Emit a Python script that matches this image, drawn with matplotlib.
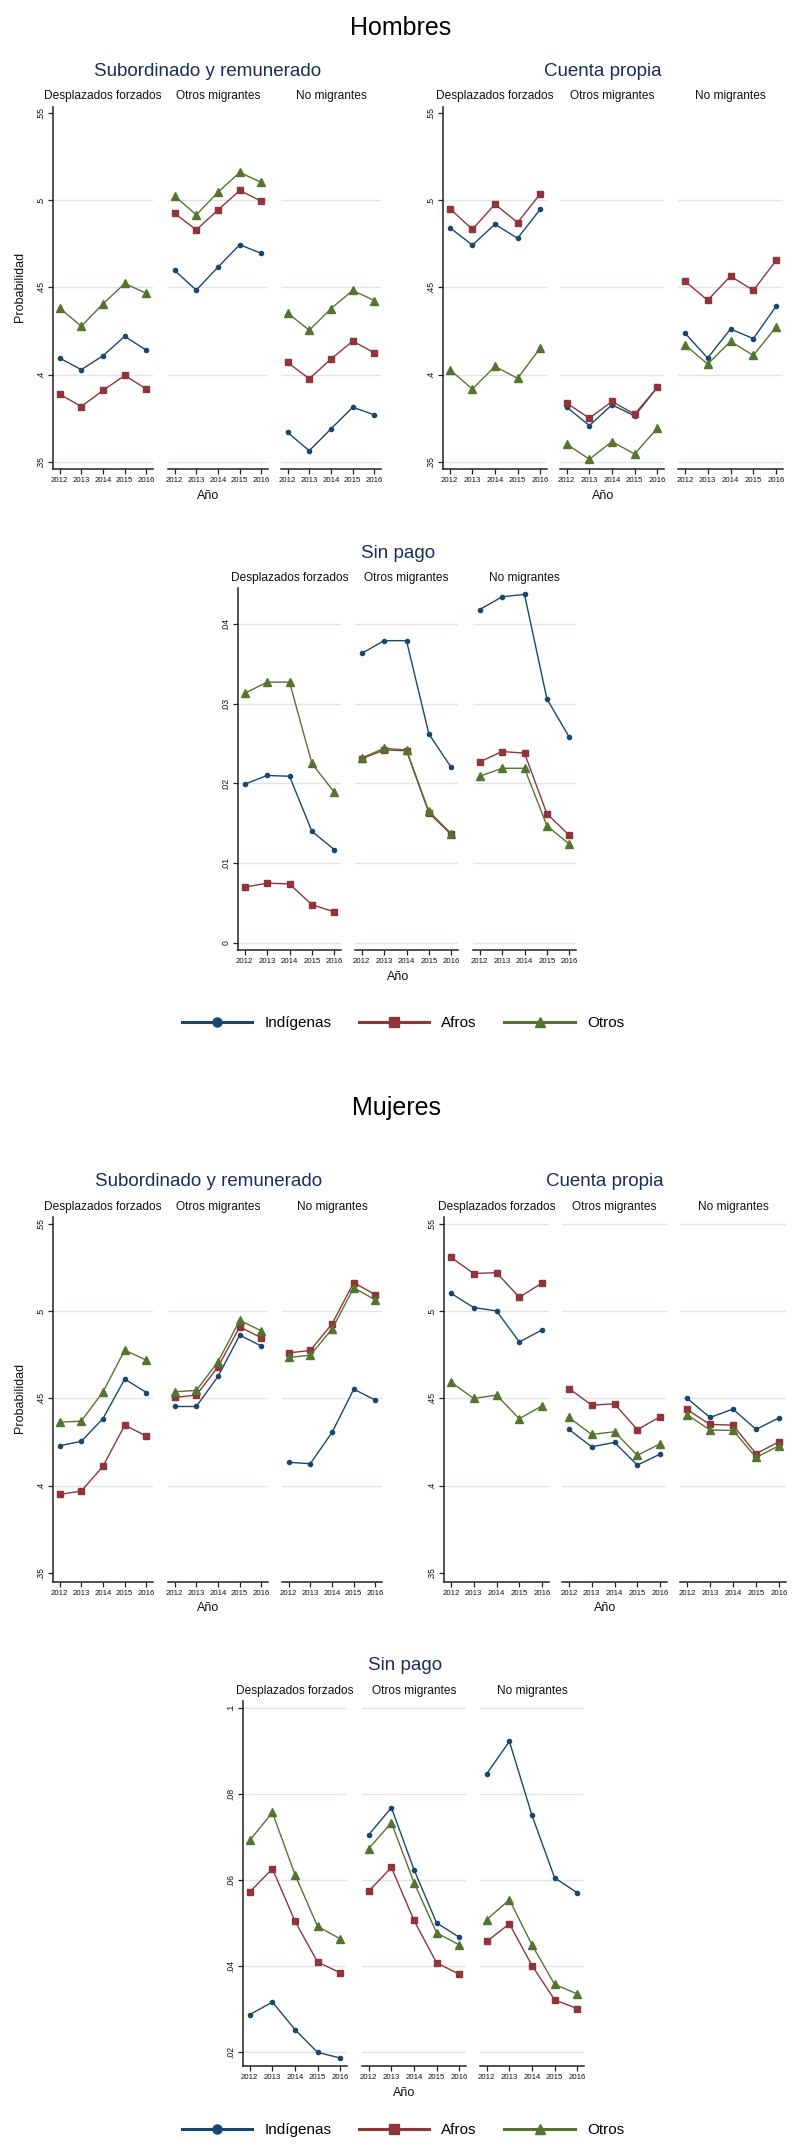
import matplotlib
matplotlib.use('Agg')
import matplotlib.pyplot as plt
from matplotlib.lines import Line2D

plt.rcParams['font.family'] = ['Liberation Sans', 'DejaVu Sans']

# ---------------- data ----------------
years = [2012, 2013, 2014, 2015, 2016]
year_labels = ['2012', '2013', '2014', '2015', '2016']
groups = ['Desplazados forzados', 'Otros migrantes', 'No migrantes']
series_names = ['Indígenas', 'Afros', 'Otros']

# Hombres - Subordinado y remunerado (one list per group)
h_sub_indigenas = [[0.4096, 0.4029, 0.4109, 0.4220, 0.4140],
                   [0.4598, 0.4485, 0.4617, 0.4745, 0.4695],
                   [0.3670, 0.3565, 0.3690, 0.3814, 0.3770]]
h_sub_afros = [[0.3889, 0.3818, 0.3910, 0.3996, 0.3918],
               [0.4925, 0.4830, 0.4944, 0.5056, 0.4994],
               [0.4071, 0.3977, 0.4090, 0.4193, 0.4125]]
h_sub_otros = [[0.4383, 0.4278, 0.4406, 0.4523, 0.4466],
               [0.5025, 0.4916, 0.5046, 0.5159, 0.5102],
               [0.4354, 0.4255, 0.4379, 0.4483, 0.4425]]

# Hombres - Cuenta propia
h_cp_indigenas = [[0.4843, 0.4743, 0.4862, 0.4782, 0.4948],
                  [0.3814, 0.3709, 0.3828, 0.3764, 0.3927],
                  [0.4239, 0.4096, 0.4262, 0.4207, 0.4393]]
h_cp_afros = [[0.4952, 0.4833, 0.4977, 0.4872, 0.5036],
              [0.3837, 0.3751, 0.3847, 0.3774, 0.3927],
              [0.4536, 0.4427, 0.4565, 0.4483, 0.4655]]
h_cp_otros = [[0.4029, 0.3918, 0.4048, 0.3979, 0.4153],
              [0.3602, 0.3516, 0.3617, 0.3546, 0.3693],
              [0.4172, 0.4061, 0.4191, 0.4111, 0.4274]]

# Hombres - Sin pago
h_sp_indigenas = [[0.0199, 0.0210, 0.0209, 0.0140, 0.0117],
                  [0.0363, 0.0379, 0.0379, 0.0262, 0.0220],
                  [0.0418, 0.0434, 0.0437, 0.0306, 0.0258]]
h_sp_afros = [[0.0070, 0.0075, 0.0074, 0.0048, 0.0039],
              [0.0231, 0.0242, 0.0241, 0.0163, 0.0136],
              [0.0227, 0.0240, 0.0238, 0.0162, 0.0135]]
h_sp_otros = [[0.0313, 0.0327, 0.0327, 0.0225, 0.0189],
              [0.0232, 0.0244, 0.0242, 0.0165, 0.0137],
              [0.0209, 0.0219, 0.0219, 0.0147, 0.0124]]

# Mujeres - Subordinado y remunerado
m_sub_indigenas = [[0.4229, 0.4254, 0.4385, 0.4611, 0.4534],
                   [0.4454, 0.4454, 0.4626, 0.4863, 0.4800],
                   [0.4134, 0.4126, 0.4305, 0.4553, 0.4490]]
m_sub_afros = [[0.3950, 0.3969, 0.4111, 0.4347, 0.4284],
               [0.4506, 0.4519, 0.4681, 0.4910, 0.4847],
               [0.4761, 0.4775, 0.4927, 0.5164, 0.5094]]
m_sub_otros = [[0.4364, 0.4370, 0.4538, 0.4777, 0.4719],
               [0.4538, 0.4546, 0.4710, 0.4948, 0.4887],
               [0.4735, 0.4748, 0.4897, 0.5134, 0.5065]]

# Mujeres - Cuenta propia
m_cp_indigenas = [[0.5103, 0.5021, 0.5002, 0.4824, 0.4893],
                  [0.4323, 0.4223, 0.4248, 0.4118, 0.4181],
                  [0.4502, 0.4391, 0.4439, 0.4323, 0.4389]]
m_cp_afros = [[0.5309, 0.5216, 0.5221, 0.5080, 0.5162],
              [0.4557, 0.4462, 0.4469, 0.4321, 0.4395],
              [0.4437, 0.4351, 0.4347, 0.4183, 0.4252]]
m_cp_otros = [[0.4594, 0.4500, 0.4519, 0.4384, 0.4458],
              [0.4391, 0.4294, 0.4309, 0.4174, 0.4240],
              [0.4408, 0.4319, 0.4317, 0.4162, 0.4229]]

# Mujeres - Sin pago
m_sp_indigenas = [[0.0287, 0.0316, 0.0252, 0.0199, 0.0186],
                  [0.0705, 0.0768, 0.0624, 0.0500, 0.0467],
                  [0.0847, 0.0922, 0.0750, 0.0605, 0.0570]]
m_sp_afros = [[0.0572, 0.0626, 0.0504, 0.0409, 0.0384],
              [0.0574, 0.0629, 0.0506, 0.0407, 0.0381],
              [0.0457, 0.0498, 0.0401, 0.0321, 0.0301]]
m_sp_otros = [[0.0692, 0.0757, 0.0612, 0.0492, 0.0463],
              [0.0673, 0.0733, 0.0594, 0.0477, 0.0449],
              [0.0508, 0.0554, 0.0449, 0.0357, 0.0335]]

ticks_ocup = [0.35, 0.40, 0.45, 0.50, 0.55]
ticklabels_ocup = ['.35', '.4', '.45', '.5', '.55']
ticks_h_sp = [0.0, 0.01, 0.02, 0.03, 0.04]
ticklabels_h_sp = ['0', '.01', '.02', '.03', '.04']
ticks_m_sp = [0.02, 0.04, 0.06, 0.08, 0.10]
ticklabels_m_sp = ['.02', '.04', '.06', '.08', '.1']

# ---------------- style ----------------
W, H = 802, 2148
fig = plt.figure(figsize=(W / 100, H / 100), dpi=100)

COLORS = ['#1a476f', '#90353b', '#55752f']
MARKERS = ['o', 's', '^']
MSIZES = [3.0, 4.6, 5.4]
GRID = '#dde7ea'
TITLE_C = '#1c2d5a'
TXT = '#111111'


def px_axes(x0, x1, ytop, ybot):
    return fig.add_axes([x0 / W, 1 - ybot / H, (x1 - x0) / W, (ybot - ytop) / H])


def ftext(x, y, s, **kw):
    return fig.text(x / W, 1 - y / H, s, **kw)


def draw_chart(data, xr, ytop, ybot, ylim, yticks, yticklabels, gridvals,
               title, title_xy, sub_y, ano_xy, ylabel_xy=None):
    for i, (x0, x1) in enumerate(xr):
        ax = px_axes(x0, x1, ytop, ybot)
        ax.set_xlim(2011.7, 2016.3)
        ax.set_ylim(*ylim)
        for gv in gridvals:
            ax.axhline(gv, color=GRID, lw=1.0, zorder=0)
        for k in range(3):
            ax.plot(years, data[k][i], color=COLORS[k], marker=MARKERS[k],
                    ms=MSIZES[k], lw=1.0, mec=COLORS[k], mfc=COLORS[k], zorder=3)
        for sp in ['top', 'right']:
            ax.spines[sp].set_visible(False)
        ax.spines['bottom'].set_linewidth(1.1)
        ax.spines['bottom'].set_color('#222222')
        ax.set_xticks(years)
        ax.set_xticklabels(year_labels, fontsize=5.6, color=TXT)
        ax.tick_params(axis='x', length=3.5, width=0.9, pad=2, color='#222222')
        if i == 0:
            ax.spines['left'].set_linewidth(1.1)
            ax.spines['left'].set_color('#222222')
            ax.set_yticks(yticks)
            ax.set_yticklabels(yticklabels, fontsize=6.2, color=TXT,
                               rotation=90, va='center')
            ax.tick_params(axis='y', length=3.5, width=0.9, pad=2, color='#222222')
        else:
            ax.spines['left'].set_visible(False)
            ax.set_yticks([])
        ax.patch.set_alpha(0)
        ftext((x0 + x1) / 2, sub_y, groups[i], ha='center', va='center',
              fontsize=8.6, color=TXT)
    ftext(title_xy[0], title_xy[1], title, ha='center', va='center',
          fontsize=13.5, color=TITLE_C)
    ftext(ano_xy[0], ano_xy[1], 'Año', ha='center', va='center',
          fontsize=9, color=TXT)
    if ylabel_xy is not None:
        ftext(ylabel_xy[0], ylabel_xy[1], 'Probabilidad', ha='center',
              va='center', rotation=90, fontsize=9, color=TXT)


def legend_at(yc):
    handles = [Line2D([], [], color=COLORS[k], lw=2.2, marker=MARKERS[k],
                      ms=[6.5, 7.5, 7.5][k], mfc=COLORS[k], mec=COLORS[k])
               for k in range(3)]
    fig.legend(handles, series_names, loc='center',
               bbox_to_anchor=(403 / W, 1 - yc / H), ncol=3, frameon=False,
               fontsize=11, handlelength=4.6, handletextpad=0.8,
               columnspacing=1.8)


# ---------------- Hombres ----------------
ftext(401, 28, 'Hombres', ha='center', va='center', fontsize=18, color='black')

draw_chart([h_sub_indigenas, h_sub_afros, h_sub_otros],
           [(53, 153), (168, 268), (281, 381)], 107, 469, (0.346, 0.5534),
           ticks_ocup, ticklabels_ocup, [0.35, 0.40, 0.45, 0.50],
           'Subordinado y remunerado', (208, 72), 96, (208, 496), (20, 287))

draw_chart([h_cp_indigenas, h_cp_afros, h_cp_otros],
           [(443, 547), (560, 664), (678, 783)], 107, 469, (0.346, 0.5534),
           ticks_ocup, ticklabels_ocup, [0.35, 0.40, 0.45, 0.50],
           'Cuenta propia', (603, 72), 96, (603, 496))

draw_chart([h_sp_indigenas, h_sp_afros, h_sp_otros],
           [(238, 341), (355, 458), (473, 576)], 588, 950, (-0.00088, 0.0445),
           ticks_h_sp, ticklabels_h_sp, ticks_h_sp,
           'Sin pago', (398, 553), 578, (398, 977))

legend_at(1023)

# ---------------- Mujeres ----------------
ftext(397, 1108, 'Mujeres', ha='center', va='center', fontsize=18, color='black')

draw_chart([m_sub_indigenas, m_sub_afros, m_sub_otros],
           [(53, 153), (168, 268), (282, 382)], 1217, 1582, (0.3448, 0.554),
           ticks_ocup, ticklabels_ocup, [0.40, 0.45, 0.50],
           'Subordinado y remunerado', (209, 1182), 1207, (208, 1608), (20, 1398))

draw_chart([m_cp_indigenas, m_cp_afros, m_cp_otros],
           [(444, 549), (562, 667), (680, 786)], 1217, 1582, (0.3448, 0.554),
           ticks_ocup, ticklabels_ocup, [0.40, 0.45, 0.50, 0.55],
           'Cuenta propia', (605, 1182), 1207, (605, 1608))

draw_chart([m_sp_indigenas, m_sp_afros, m_sp_otros],
           [(243, 347), (362, 466), (480, 584)], 1701, 2066, (0.01674, 0.1016),
           ticks_m_sp, ticklabels_m_sp, ticks_m_sp,
           'Sin pago', (405, 1666), 1691, (404, 2093))

legend_at(2130)

fig.savefig('out.png', dpi=100, facecolor='white')
